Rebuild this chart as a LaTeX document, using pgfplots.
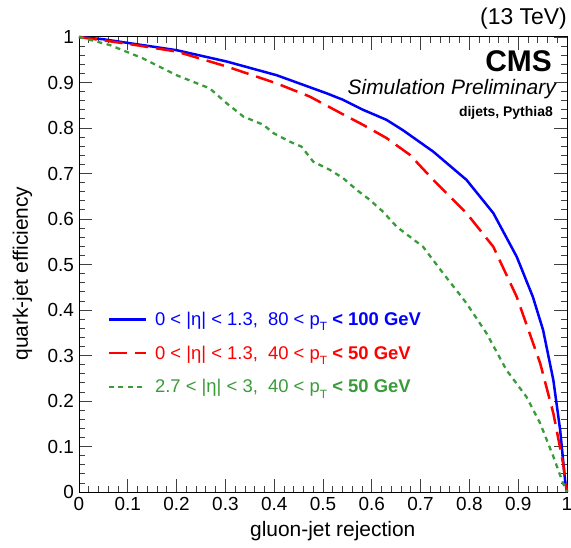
\documentclass[border=0pt]{standalone}
\usepackage{fontspec}
\setmainfont{Liberation Sans}
\usepackage{pgfplots}
\pgfplotsset{compat=1.18}
\definecolor{cmsblue}{RGB}{0,0,255}
\definecolor{cmsred}{RGB}{255,0,0}
\definecolor{cmsgreen}{RGB}{58,155,58}
\begin{document}
\begin{tikzpicture}
\useasboundingbox (-79bp,-56bp) rectangle (492bp,492bp);
\begin{axis}[
  at={(0,0)}, anchor=south west,
  width=488bp, height=455bp, scale only axis,
  xmin=0, xmax=1, ymin=0, ymax=1,
  xtick={0,0.1,0.2,0.3,0.4,0.5,0.6,0.7,0.8,0.9,1},
  ytick={0,0.1,0.2,0.3,0.4,0.5,0.6,0.7,0.8,0.9,1},
  minor tick num=4,
  tick align=inside,
  major tick length=13bp, minor tick length=6.5bp,
  tick style={line width=0.8pt, black!75},
  axis line style={line width=1pt},
  /pgf/number format/assume math mode=true,
  ticklabel style={font=\fontsize{19}{22}\selectfont},
  xticklabel style={yshift=-2bp},
  yticklabel style={xshift=-1.5bp},
  xlabel={gluon-jet rejection},
  ylabel={quark-jet efficiency},
  label style={font=\fontsize{21}{24}\selectfont},
  xlabel style={at={(rel axis cs:0.52,0)}, anchor=base, yshift=-44bp},
  ylabel style={at={(rel axis cs:0,0.48)}, anchor=base, yshift=51bp},
  legend cell align=left,
  legend image code/.code={\draw[#1] (0bp,0bp) -- (37bp,0bp); \path (43bp,0bp);},
  legend style={at={(rel axis cs:0.052,0.405)}, anchor=north west, draw=none, fill=none,
    font=\fontsize{18.5}{21}\selectfont, row sep=15bp},
  clip=false,
]
\addplot[cmsblue, line width=2.5bp, line join=round] coordinates {
(0,1) (0.05,0.995) (0.1,0.987) (0.2,0.971) (0.303,0.946) (0.405,0.916) (0.508,0.876)
(0.541,0.862) (0.582,0.840) (0.63,0.818) (0.664,0.795) (0.726,0.748) (0.794,0.686)
(0.849,0.613) (0.897,0.517) (0.930,0.429) (0.951,0.356) (0.972,0.246) (0.986,0.136)
(0.996,0.026) (1,0)};
\addlegendentry{\textcolor{cmsblue}{0 < |η| < 1.3,\ \ 80 < p\raisebox{-0.55ex}{\fontsize{12}{12}\selectfont T} \textbf{< 100 GeV}}}
\addplot[cmsred, line width=2.5bp, line join=round, dash pattern=on 18bp off 8bp] coordinates {
(0,1) (0.1,0.985) (0.2,0.968) (0.303,0.935) (0.405,0.898) (0.473,0.869) (0.541,0.830)
(0.582,0.807) (0.630,0.778) (0.678,0.741) (0.726,0.686) (0.794,0.613) (0.849,0.539)
(0.897,0.429) (0.945,0.283) (0.972,0.173) (0.992,0.063) (1,0)};
\addlegendentry{\textcolor{cmsred}{0 < |η| < 1.3,\ \ 40 < p\raisebox{-0.55ex}{\fontsize{12}{12}\selectfont T} \textbf{< 50 GeV}}}
\addplot[cmsgreen, line width=2.3bp, line join=round, dash pattern=on 5bp off 4.5bp] coordinates {
(0,1) (0.064,0.982) (0.131,0.953) (0.2,0.916) (0.268,0.887) (0.303,0.854) (0.337,0.825)
(0.378,0.807) (0.398,0.789) (0.432,0.770) (0.456,0.759) (0.480,0.726) (0.514,0.708)
(0.541,0.690) (0.569,0.664) (0.596,0.642) (0.623,0.616) (0.651,0.583) (0.705,0.539)
(0.746,0.481) (0.794,0.415) (0.835,0.349) (0.876,0.268) (0.917,0.209) (0.945,0.151)
(0.972,0.078) (0.992,0.019) (1,0)};
\addlegendentry{\textcolor{cmsgreen}{2.7 < |η| < 3,\ \ 40 < p\raisebox{-0.55ex}{\fontsize{12}{12}\selectfont T} \textbf{< 50 GeV}}}
\node[anchor=base east, font=\fontsize{23}{26}\selectfont, inner sep=0pt] at (rel axis cs:1,1) [yshift=12bp] {(13 TeV)};
\node[anchor=base east, font=\fontsize{30}{34}\selectfont\bfseries, inner sep=0pt] at (rel axis cs:1,1) [xshift=-15bp, yshift=-35bp] {CMS};
\node[anchor=base east, font=\fontsize{21}{24}\selectfont\itshape, inner sep=0pt] at (rel axis cs:1,1) [xshift=-11bp, yshift=-58bp] {Simulation Preliminary};
\node[anchor=base east, font=\fontsize{14}{16}\selectfont\bfseries, inner sep=0pt] at (rel axis cs:1,1) [xshift=-14bp, yshift=-80bp] {dijets, Pythia8};
\end{axis}
\end{tikzpicture}
\end{document}
